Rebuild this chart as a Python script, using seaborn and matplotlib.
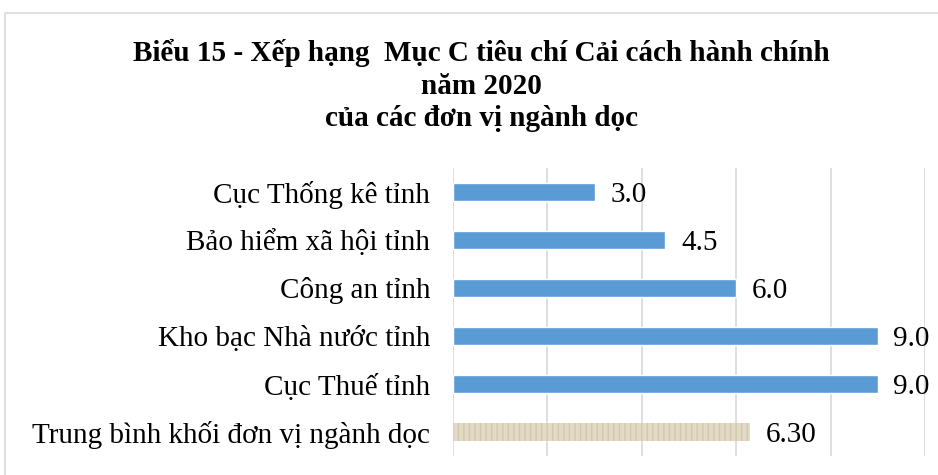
import matplotlib
matplotlib.use("Agg")
import matplotlib.pyplot as plt
import seaborn as sns
import pandas as pd
from matplotlib.patches import Rectangle

# dữ liệu
units = ['Cục Thống kê tỉnh', 'Bảo hiểm xã hội tỉnh', 'Công an tỉnh',
         'Kho bạc Nhà nước tỉnh', 'Cục Thuế tỉnh', 'Trung bình khối đơn vị ngành dọc']
scores = [3.0, 4.5, 6.0, 9.0, 9.0, 6.30]
value_labels = ['3.0', '4.5', '6.0', '9.0', '9.0', '6.30']
bar_colors = ['#5B9BD5', '#5B9BD5', '#5B9BD5', '#5B9BD5', '#5B9BD5', '#E3DAC6']

sns.set_style("white")
plt.rcParams['font.family'] = ['Liberation Serif', 'DejaVu Serif']
plt.rcParams['text.color'] = 'black'
plt.rcParams['ytick.color'] = 'black'

fig = plt.figure(figsize=(9.38, 4.75), dpi=100)
ax = fig.add_axes([453 / 938, 19 / 475, 472 / 938, 288 / 475])

df = pd.DataFrame({'unit': units, 'score': scores})
sns.barplot(data=df, x='score', y='unit', hue='unit', palette=bar_colors,
            legend=False, width=0.36, ax=ax, saturation=1)

# thanh trung bình có vân
avg = ax.patches[-1]
avg.set_hatch('|||')
avg.set_edgecolor('#D2C7AF')
avg.set_linewidth(0)

ax.set_xlim(0, 10)
ax.set_ylim(5.5, -0.5)
ax.set_xticks([0, 2, 4, 6, 8, 10])
ax.xaxis.grid(True, color='#D9D9D9', linewidth=1.2)
ax.set_xticklabels([])
ax.tick_params(axis='both', length=0)
ax.tick_params(axis='y', labelsize=21, pad=16.5)
ax.set_xlabel('')
ax.set_ylabel('')
for s in ax.spines.values():
    s.set_visible(False)

for i, (v, t) in enumerate(zip(scores, value_labels)):
    ax.text(v + 0.33, i, t, va='center_baseline', ha='left', fontsize=21, clip_on=False)

fig.text(0.513, 0.82, 'Biểu 15 - Xếp hạng  Mục C tiêu chí Cải cách hành chính\nnăm 2020\ncủa các đơn vị ngành dọc',
         ha='center', va='center', fontsize=21, fontweight='bold', linespacing=1.25)

# khung biểu đồ
fig.patches.append(Rectangle((5 / 938, -0.05), 940 / 938, 1.05 - 13 / 475, transform=fig.transFigure,
                             fill=False, edgecolor='#D9D9D9', linewidth=1.2))

fig.savefig('out.png', dpi=100)
